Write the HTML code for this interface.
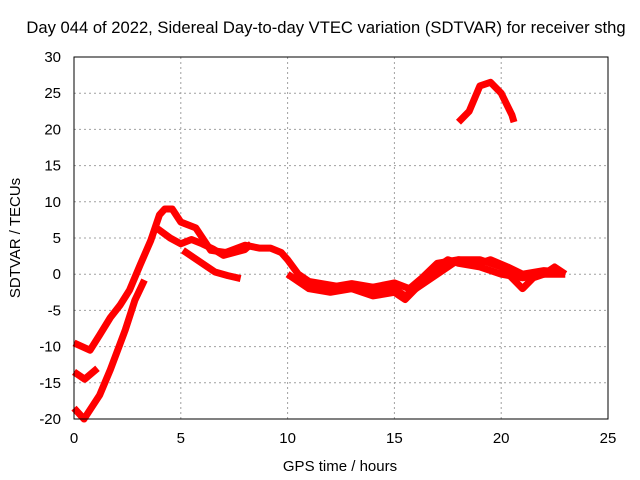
<!DOCTYPE html>
<html><head><meta charset="utf-8"><style>
body{margin:0;background:#fff;}
svg{display:block;font-family:"Liberation Sans",sans-serif;}
</style></head><body>
<svg id="chart" width="640" height="480">
<text x="326" y="33" font-size="16.6" text-anchor="middle">Day 044 of 2022, Sidereal Day-to-day VTEC variation (SDTVAR) for receiver sthg</text>
<text x="340" y="471" font-size="15" text-anchor="middle">GPS time / hours</text>
<text transform="translate(20,238) rotate(-90)" font-size="15" text-anchor="middle">SDTVAR / TECUs</text>
<g id="grid"></g><g id="series"></g>
<rect x="74" y="57" width="534" height="362" fill="none" stroke="#000"/>
</svg>
<script>
const xTicks=[0,5,10,15,20,25];
const yTicks=[-20,-15,-10,-5,0,5,10,15,20,25,30];
const trackA=[[0,-18.5],[0.47,-20],[1.2,-16.7],[1.7,-13.2],[2.4,-7.7],[2.85,-3.6],[3.3,-0.8]];
const trackB=[[0,-9.5],[0.75,-10.5],[1.2,-8.4],[1.7,-6],[2.15,-4.3],[2.6,-2.2],[3.1,1.3],[3.6,4.7],[4.0,8.2],[4.25,9],[4.6,9],[5,7.2],[5.7,6.4],[6.4,3.3],[7.1,3],[8,4],[8.7,3.6],[9.2,3.6],[9.7,3],[10,2],[10.5,0],[11,-1],[12,-1.5],[13,-2],[14,-2.5],[15,-2],[15.5,-3],[16,-2],[16.5,0],[17,1],[17.5,2],[18,1.5],[19,1],[19.5,0.5],[20,0],[21,-0.5],[22,0],[23,0]];
const trackC=[[0,-13.5],[0.5,-14.5],[1.1,-13]];
const trackD=[[3.9,6.3],[4.5,5],[5,4.2],[5.5,4.8],[6,4.2],[6.5,3.5],[7,2.6],[8,3.4],[8.3,4.2]];
const trackD2=[[5.1,3.3],[5.9,1.7],[6.6,0.3],[7.2,-0.2],[7.8,-0.6]];
const trackE=[[10,0],[11,-2],[12,-2.5],[13,-2],[14,-3],[15,-2.5],[15.5,-3.5],[16,-2],[17,0],[18,2],[19,2],[20,1],[20.5,-0.5],[21,-2],[21.5,-0.5],[22,0],[22.5,1],[23,0]];
const trackG=[[11,-1.5],[12,-1.8],[13,-1.3],[14,-1.8],[15,-1.2],[15.7,-2],[16.3,-0.5],[17,1.5],[18,2],[19,1.5],[19.5,2],[20.3,1],[21,0],[22,0.5],[22.8,0.3]];
const trackF=[[18,21],[18.5,22.5],[19,26],[19.5,26.5],[20,25],[20.5,22],[20.6,21]];
const tracks=[trackA,trackB,trackC,trackD,trackD2,trackE,trackG,trackF];
const NS="http://www.w3.org/2000/svg";
const X=v=>74+v*(534/25), Y=v=>419-(v+20)*(362/50);
const grid=document.getElementById('grid'), ser=document.getElementById('series');
function mk(t,a,p){const e=document.createElementNS(NS,t);for(const k in a)e.setAttribute(k,a[k]);p.appendChild(e);return e;}
xTicks.forEach(v=>{
 const l=mk('line',{x1:X(v),x2:X(v),y1:57,y2:419,stroke:'#a0a0a0','stroke-dasharray':'2,3'},grid);
 
 
 const t=mk('text',{x:X(v),y:443,'font-size':15,'text-anchor':'middle'},grid);t.textContent=v;
 
 
});
yTicks.forEach(v=>{
 const l=mk('line',{x1:74,x2:608,y1:Y(v),y2:Y(v),stroke:'#a0a0a0','stroke-dasharray':'2,3'},grid);
 
 
 const t=mk('text',{x:61,y:Y(v)+5,'font-size':15,'text-anchor':'end'},grid);t.textContent=v;
 
 
});
tracks.forEach(tr=>{
 const p=mk('polyline',{points:tr.map(d=>X(d[0])+','+Y(d[1])).join(' '),fill:'none',stroke:'#ff0000','stroke-width':7,'stroke-linejoin':'round'},ser);
 
 
});
</script>
</body></html>
